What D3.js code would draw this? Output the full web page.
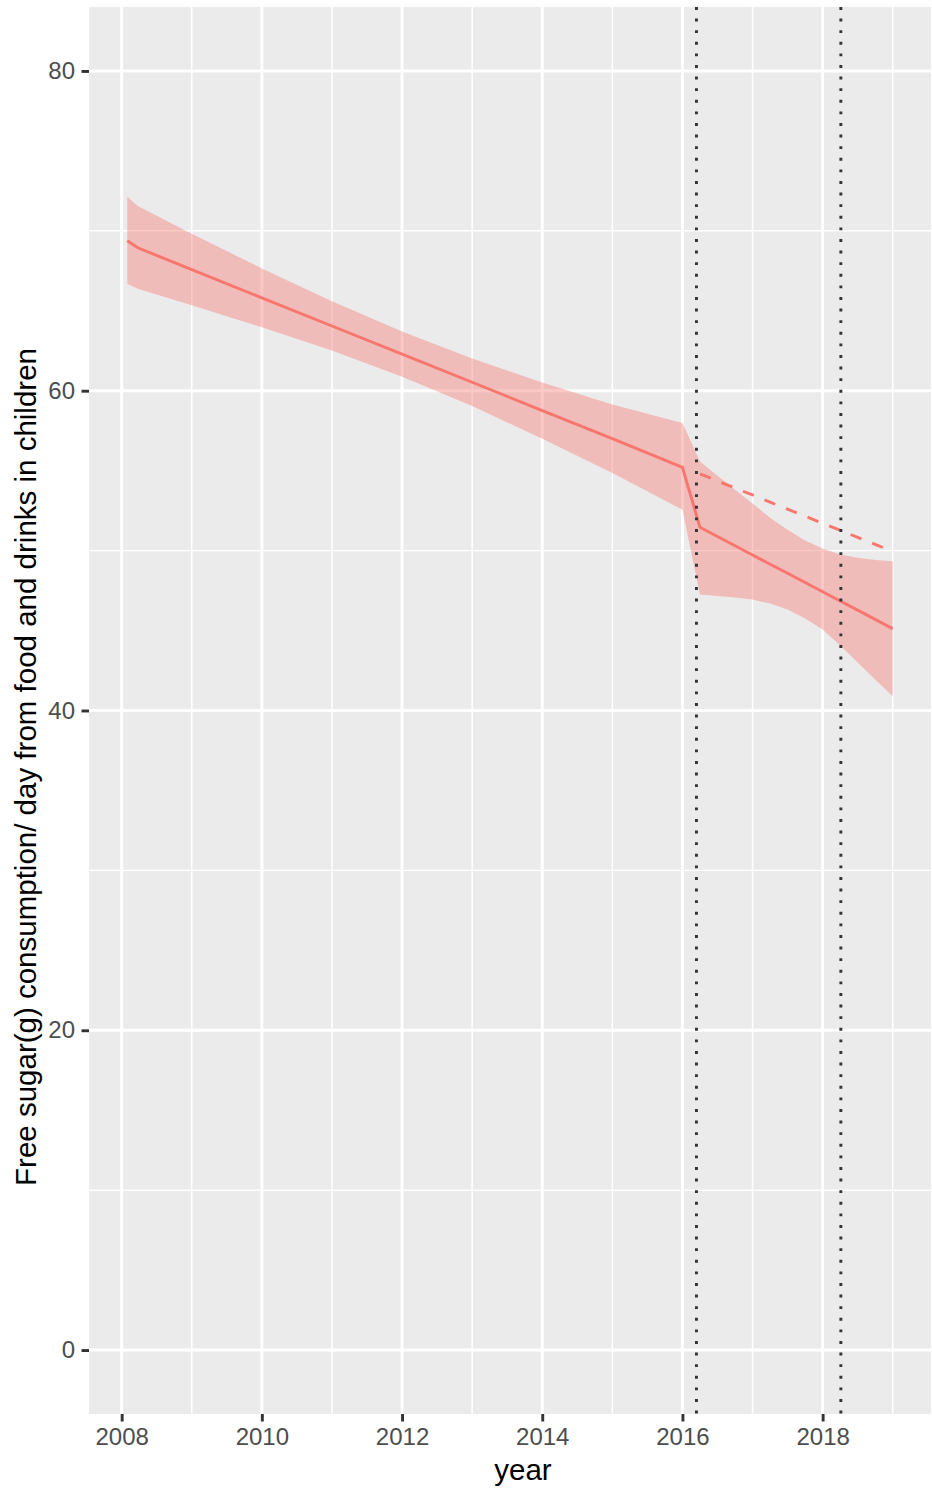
<!DOCTYPE html>
<html>
<head>
<meta charset="utf-8">
<script src="https://cdn.jsdelivr.net/npm/d3@7"></script>
<style>
    body { margin: 0; background: #fff; }
    text { font-family: "Liberation Sans", Arial, sans-serif; }
</style>
</head>
<body>
<div id="chart-area"></div>
<script>
'use strict';

// fitted values
let years = [2008.08, 2008.23, 2009, 2010, 2011, 2012, 2013, 2014, 2015, 2016.0,
    2016.25, 2016.5, 2016.75, 2017, 2017.25, 2017.5, 2017.75, 2018, 2018.25, 2018.5, 2018.75, 2019];
let fitted = [69.38, 68.94, 67.58, 65.81, 64.05, 62.29, 60.53, 58.76, 57.0, 55.21,
    51.46, 50.88, 50.30, 49.73, 49.15, 48.58, 48.0, 47.43, 46.85, 46.28, 45.70, 45.11];
let upper = [72.14, 71.56, 69.82, 67.65, 65.59, 63.70, 62.02, 60.52, 59.14, 57.98,
    55.58, 54.69, 53.81, 52.94, 52.06, 51.31, 50.63, 50.13, 49.75, 49.56, 49.41, 49.33];
let lower = [66.69, 66.38, 65.34, 63.97, 62.51, 60.88, 59.04, 57.0, 54.86, 52.56,
    47.25, 47.16, 47.06, 46.94, 46.69, 46.31, 45.75, 45.06, 44.06, 43.0, 41.94, 40.89];

// counterfactual (pre-trend continued)
let cfYears = [2016.25, 2016.5, 2016.75, 2017, 2017.25, 2017.5, 2017.75, 2018, 2018.25, 2018.5, 2018.75, 2019];
let cfValues = [54.80, 54.36, 53.91, 53.48, 53.03, 52.59, 52.15, 51.71, 51.27, 50.83, 50.39, 49.94];

let interventions = [2016.2, 2018.26];

let xTicks = [2008, 2010, 2012, 2014, 2016, 2018];
let xMinor = [2009, 2011, 2013, 2015, 2017, 2019];
let yTicks = [0, 20, 40, 60, 80];
let yMinor = [10, 30, 50, 70];

draw();

function draw() {
    let W = 932, H = 1491;
    let left = 89, right = 931, top = 7, bottom = 1414;

    let svg = d3.select('#chart-area').append('svg')
        .attr('width', W)
        .attr('height', H);

    let x = d3.scaleLinear()
        .domain([2007.534, 2019.546])
        .range([left, right]);

    let y = d3.scaleLinear()
        .domain([-4, 84])
        .range([bottom, top]);

    svg.append('rect')
        .attr('x', left).attr('y', top)
        .attr('width', right - left).attr('height', bottom - top)
        .attr('fill', '#EBEBEB');

    // grid
    let grid = svg.append('g');
    grid.selectAll('.xminor').data(xMinor).enter().append('line')
        .attr('x1', d => x(d)).attr('x2', d => x(d))
        .attr('y1', top).attr('y2', bottom)
        .attr('stroke', '#fff').attr('stroke-width', 1.45);
    grid.selectAll('.yminor').data(yMinor).enter().append('line')
        .attr('x1', left).attr('x2', right)
        .attr('y1', d => y(d)).attr('y2', d => y(d))
        .attr('stroke', '#fff').attr('stroke-width', 1.45);
    grid.selectAll('.xmajor').data(xTicks).enter().append('line')
        .attr('x1', d => x(d)).attr('x2', d => x(d))
        .attr('y1', top).attr('y2', bottom)
        .attr('stroke', '#fff').attr('stroke-width', 2.9);
    grid.selectAll('.ymajor').data(yTicks).enter().append('line')
        .attr('x1', left).attr('x2', right)
        .attr('y1', d => y(d)).attr('y2', d => y(d))
        .attr('stroke', '#fff').attr('stroke-width', 2.9);

    // ribbon
    let area = d3.area()
        .x((d, i) => x(years[i]))
        .y0((d, i) => y(lower[i]))
        .y1((d, i) => y(upper[i]));

    svg.append('path')
        .datum(years)
        .attr('d', area)
        .attr('fill', '#F8766D')
        .attr('fill-opacity', 0.4);

    let line = d3.line()
        .x(d => x(d[0]))
        .y(d => y(d[1]));

    svg.append('path')
        .datum(years.map((yr, i) => [yr, fitted[i]]))
        .attr('d', line)
        .attr('fill', 'none')
        .attr('stroke', '#F8766D')
        .attr('stroke-width', 2.9);

    svg.append('path')
        .datum(cfYears.map((yr, i) => [yr, cfValues[i]]))
        .attr('d', line)
        .attr('fill', 'none')
        .attr('stroke', '#F8766D')
        .attr('stroke-width', 2.9)
        .attr('stroke-dasharray', '11.6,11.6');

    svg.selectAll('.vline').data(interventions).enter().append('line')
        .attr('x1', d => x(d)).attr('x2', d => x(d))
        .attr('y1', top).attr('y2', bottom)
        .attr('stroke', '#333')
        .attr('stroke-width', 2.9)
        .attr('stroke-dasharray', '2.9,8.7');

    // axes
    let yAxis = svg.append('g')
        .attr('transform', 'translate(' + left + ',0)')
        .call(d3.axisLeft(y).tickValues(yTicks).tickSize(7.5).tickPadding(6.5));
    let xAxis = svg.append('g')
        .attr('transform', 'translate(0,' + bottom + ')')
        .call(d3.axisBottom(x).tickValues(xTicks).tickFormat(d3.format('d')).tickSize(7.5).tickPadding(6.5));

    [xAxis, yAxis].forEach((ax) => {
        ax.select('.domain').remove();
        ax.selectAll('.tick line').attr('stroke', '#333').attr('stroke-width', 2.9);
        ax.selectAll('.tick text')
            .attr('fill', '#4D4D4D')
            .style('font-size', '24px')
            .style('font-family', '"Liberation Sans", Arial, sans-serif');
    });

    svg.append('text')
        .attr('x', 523).attr('y', 1480)
        .attr('text-anchor', 'middle')
        .style('font-size', '29.5px')
        .attr('fill', '#000')
        .text('year');

    svg.append('text')
        .attr('transform', 'translate(36,767) rotate(-90)')
        .attr('text-anchor', 'middle')
        .style('font-size', '29.5px')
        .attr('fill', '#000')
        .text('Free sugar(g) consumption/ day from food and drinks in children');
}
</script>
</body>
</html>
